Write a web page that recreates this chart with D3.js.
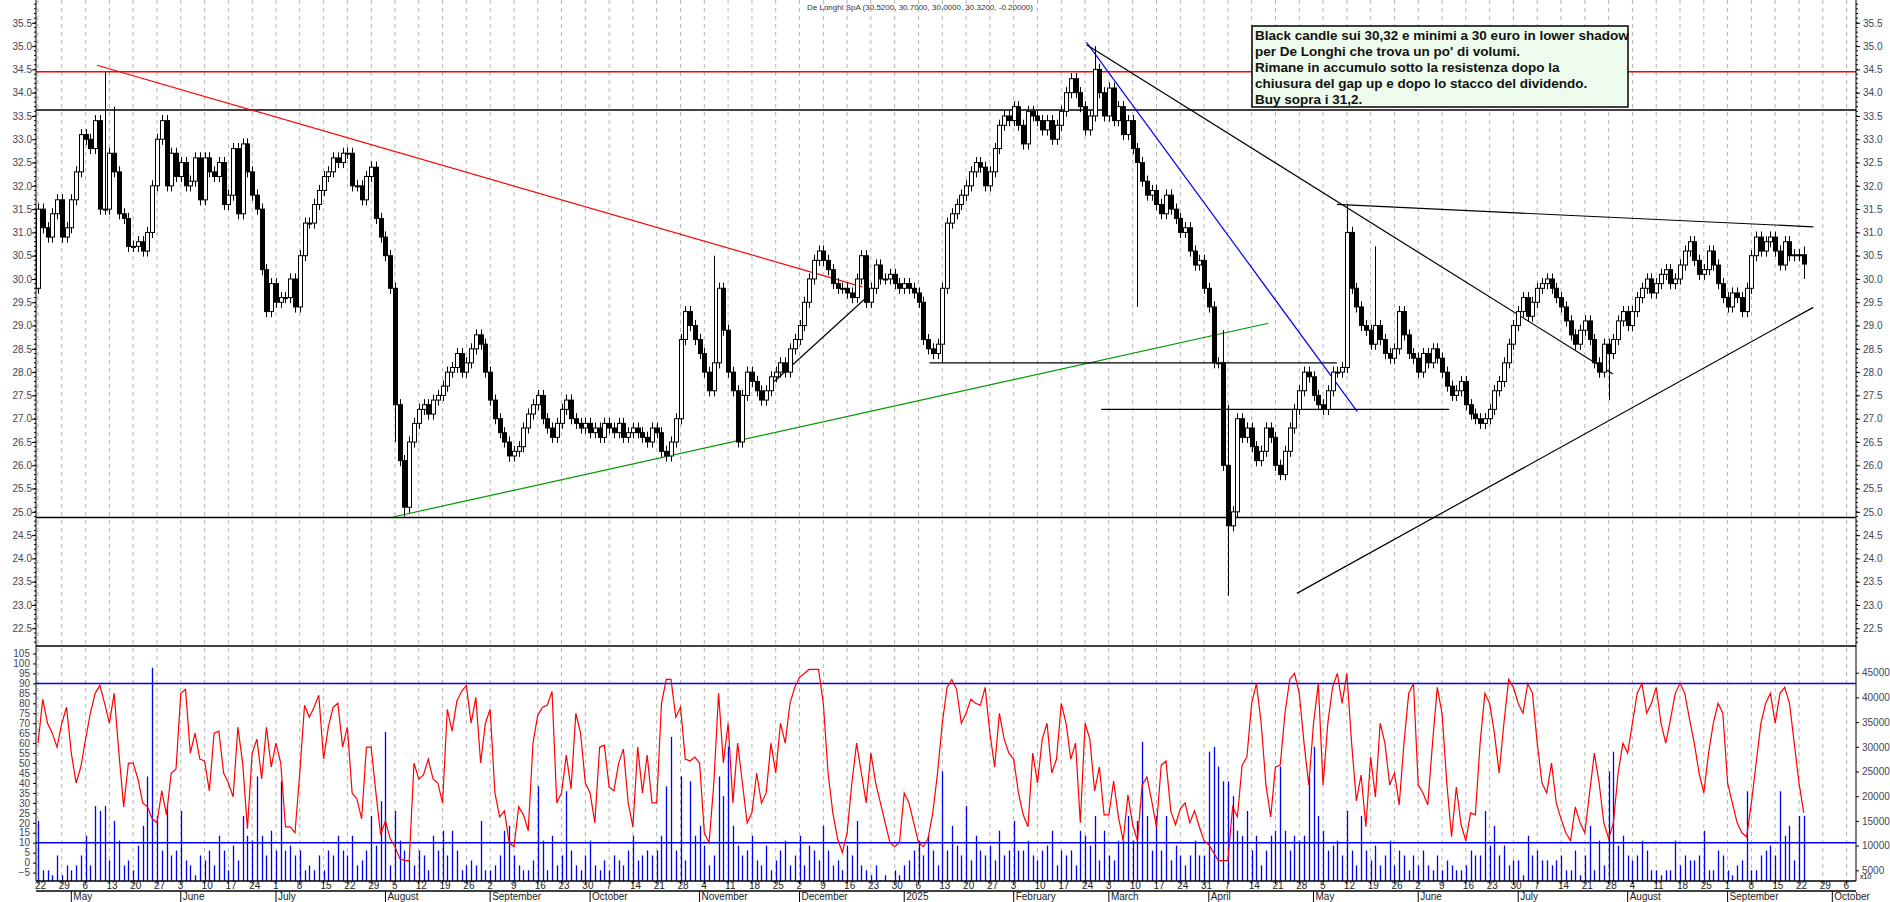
<!DOCTYPE html>
<html><head><meta charset="utf-8">
<script src="https://cdn.jsdelivr.net/npm/d3@7"></script>
<style>body{margin:0;background:#fff}svg{display:block;font-family:"Liberation Sans",Arial,sans-serif}</style>
</head><body><svg id="c" width="1890" height="902"></svg>
<script>
// ---- data (weekly rows of daily values, trading weekdays from 2024-04-22) ----
const startDate = "2024-04-22";
const closes = [
[31.5,31.1,30.9,31.4,31.7],[30.9,31.1,31.7,32.3,33.1],[33.0,32.8,33.4,31.5,31.5],[32.7,32.3,31.4,31.3,30.7],
[30.7,30.8,30.6,31.0,32.0],[33.0,33.4,32.0,32.7,32.2],[32.5,32.0,32.1,32.6,31.7],[32.6,32.3,32.2,32.5,31.6],
[31.8,32.8,31.4,32.9,32.3],[31.8,31.5,30.2,29.3,29.9],[29.5,29.6,29.6,30.0,29.4],[30.5,31.2,31.2,31.6,31.9],
[32.2,32.3,32.6,32.5,32.7],[32.7,32.0,32.0,31.7,32.2],[32.4,31.3,30.9,30.5,29.8],[27.3,26.1,25.1,26.5,26.9],
[27.2,27.3,27.1,27.4,27.5],[27.7,28.0,28.1,28.4,28.0],[28.2,28.5,28.8,28.6,28.0],[27.4,27.0,26.7,26.5,26.2],
[26.3,26.4,26.8,27.1,27.3],[27.5,27.0,26.8,26.6,26.9],[27.2,27.4,27.0,26.9,26.8],[26.9,26.7,26.8,26.6,26.9],
[26.8,26.7,26.9,26.6,26.7],[26.8,26.7,26.6,26.5,26.8],[26.7,26.3,26.2,26.5,27.0],[28.7,29.3,29.0,28.7,28.4],
[28.0,27.6,28.2,29.8,28.9],[28.0,27.6,26.5,27.5,28.0],[27.8,27.6,27.4,27.6,27.9],[28.0,28.2,28.0,28.5,28.7],
[29.0,29.5,30.0,30.4,30.6],[30.4,30.2,29.9,29.8,29.8],[29.7,29.6,30.0,30.5,29.5],[29.8,30.3,30.0,30.0,30.1],
[29.9,29.8,29.9,29.8,29.7],[29.5,28.7,28.5,28.4,28.6],[29.8,31.2,31.4,31.6,31.8],[32.0,32.3,32.5,32.4,32.0],
[32.3,32.8,33.3,33.5,33.4],[33.7,33.3,32.9,33.6,33.5],[33.4,33.2,33.4,33.0,33.3],[33.6,34.0,34.3,34.0,33.7],
[33.2,33.5,34.5,34.0,33.5],[34.1,33.4,33.7,33.1,33.4],[32.8,32.5,32.1,31.8,31.9],[31.6,31.4,31.8,31.5,31.3],
[31.0,31.1,30.6,30.3,30.4],[29.8,29.4,28.2,28.2,26.0],[24.7,25.0,27.0,26.6,26.8],[26.4,26.1,26.3,26.8,26.6],
[26.0,25.8,26.3,26.8,27.2],[27.6,28.0,27.9,27.5,27.3],[27.2,27.6,28.0,28.0,28.1],[31.0,29.8,29.4,29.0,28.9],
[28.6,29.0,28.7,28.4,28.3],[28.5,29.3,28.8,28.4,28.3],[28.0,28.4,28.2,28.5,28.3],[28.0,27.7,27.5,27.6,27.8],
[27.3,27.1,27.0,26.9,27.0],[27.2,27.6,27.8,28.2,28.6],[29.0,29.3,29.6,29.2,29.5],[29.8,29.9,30.0,29.8,29.6],
[29.4,29.1,28.8,28.6,28.9],[29.1,28.7,28.2,28.0,28.6],[28.4,28.7,29.1,29.3,29.0],[29.3,29.6,29.8,30.0,29.7],
[29.9,30.1,30.2,29.9,30.0],[30.3,30.6,30.8,30.4,30.1],[30.2,30.6,30.3,29.9,29.6],[29.4,29.7,29.6,29.3,29.8],
[30.5,30.9,30.6,30.8,30.9],[30.6,30.3,30.8,30.5,30.52],[30.5,30.32]
];
const firstOpen = 29.8;
// notable wick extremes: [date, high, low]
const extremes = [
["2024-05-10",34.45,null],["2024-05-14",33.7,null],["2024-08-07",null,24.9],["2024-08-05",null,26.5],
["2024-11-06",30.5,null],["2025-01-13",null,28.2],["2025-02-26",35.0,null],["2025-03-11",null,29.4],
["2025-04-04",28.9,null],["2025-04-07",27.3,23.2],["2025-05-12",31.6,null],["2025-05-20",30.7,null],
["2025-07-28",null,27.4],["2025-09-23",30.7,30.0]
];
const stoch = [
[60,82,70,65,58],[70,78,55,40,48],[62,75,85,89,80],[70,85,55,28,50],[50,42,30,28,22],[20,36,24,45,47],
[85,87,55,65,52],[51,36,65,66,45],[40,33,68,50,17],[55,62,42,68,48],[60,50,18,18,15],[45,79,73,78,84],
[52,68,78,80,58],[68,35,32,22,58],[58,35,14,21,12],[8,2,1,1,50],[42,44,52,42,40],[30,77,66,81,86],
[89,70,83,50,70],[77,35,23,26,10],[8,28,24,16,60],[74,78,79,86,30],[35,54,37,75,65],[40,35,20,58,59],
[38,36,50,57,30],[18,58,35,54,30],[30,80,92,92,73],[78,52,51,53,50],[15,10,40,85,50],[70,30,60,40,20],
[25,45,30,35,60],[45,70,60,80,88],[93,95,97,97,97],[80,45,25,12,5],[15,40,60,45,30],[55,40,30,20,10],
[8,10,35,30,20],[10,8,12,25,45],[70,88,92,87,70],[75,82,80,79,88],[65,48,75,62,55],[52,35,24,18,55],
[40,62,70,45,52],[80,70,52,60,20],[70,62,36,48,24],[24,41,23,11,34],[19,11,39,43,31],[18,49,51,26,19],
[27,30,20,26,18],[11,9,5,1,1],[1,28,23,49,53],[80,90,70,39,23],[48,49,75,92,95],[85,60,39,70,90],
[39,70,88,95,80],[95,60,31,44,18],[53,33,70,60,39],[45,29,60,85,90],[39,35,29,60,88],[75,40,13,38,19],
[11,25,24,60,85],[80,65,45,70,92],[88,80,75,90,85],[60,40,35,50,30],[22,15,11,28,20],[15,35,55,40,20],
[12,20,45,60,55],[70,85,90,75,80],[88,70,60,72,85],[90,85,72,60,45],[35,55,70,80,75],[40,30,20,15,13],
[30,50,70,80,85],[70,85,88,80,60],[40,25]
];
const volumeK = [
[15,5,5,4,8],[4,6,5,6,8],[12,6,18,17,18],[7,15,11,6,7],[5,10,14,24,46],[16,9,18,8,9],[17,7,6,4,8],
[7,9,6,12,9],[5,10,7,16,12],[11,24,12,8,13],[9,23,9,10,8],[9,5,6,5,8],[5,9,8,12,9],[8,12,6,7,9],
[16,10,19,33,6],[17,11,9,7,6],[9,8,5,12,9],[13,8,13,9,5],[6,7,6,15,5],[5,6,8,13,14],[8,6,5,5,7],
[22,11,5,12,6],[8,21,9,6,5],[8,11,6,5,7],[5,8,7,6,9],[12,7,8,9,8],[9,12,22,32,9],[24,7,23,12,14],
[10,6,8,24,20],[30,14,10,8,9],[12,7,6,10,5],[7,9,11,6,8],[12,6,10,9,7],[14,9,6,7,5],[10,8,15,6,5],
[4,6,3,4,3],[5,4,6,7,9],[11,8,12,9,6],[25,9,14,10,8],[18,7,12,9,8],[10,7,13,8,9],[15,9,9,11,8],
[7,9,10,13,6],[9,8,9,6,13],[12,10,16,7,13],[8,7,11,11,16],[11,15,31,16,9],[16,9,16,7,10],[8,6,8,11,8],
[8,29,30,26,23],[23,20,13,12,17],[9,12,6,9,12],[13,26,13,9,12],[11,12,24,30,16],[13,9,10,11,8],
[17,9,6,16,9],[7,10,6,8,11],[6,9,8,5,8],[6,9,6,5,8],[5,7,6,5,5],[6,9,8,8,17],[10,14,8,10,6],
[7,7,4,12,8],[9,7,7,6,7],[8,5,5,9,4],[8,14,5,11,6],[25,29,10,12,8],[7,8,11,9,5],[5,4,5,5,11],
[6,8,7,7,8],[13,5,5,9,8],[5,4,6,7,21],[5,5,8,9,10],[8,21,12,14,7],[16,16]
];
// trend lines: [index0, price0, index1, price1, colour]
const trendLines = [
[12.4,34.59,173.2,29.83,"#ff0000"],[74.6,24.89,258.5,29.05,"#009900"],[154.7,27.8,175.1,29.7,"#000"],
[187.3,28.2,272.9,28.2,"#000"],[223.4,27.2,296.5,27.2,"#000"],[220.3,35.08,277.2,27.15,"#0000ff"],
[220.3,35.03,330.9,27.96,"#000"],[272.9,31.6,373,31.12,"#000"],[264.5,23.25,373,29.39,"#000"]
];
const hLines = [[34.45,"#ff0000"],[33.63,"#000"],[24.88,"#000"]];
const oscLevels = [90,10];
const noteLines = ["Black candle sui 30,32 e minimi a 30 euro in lower shadow","per De Longhi che trova un po' di volumi.","Rimane in accumulo sotto la resistenza dopo la","chiusura del gap up e dopo lo stacco del dividendo.","Buy sopra i 31,2."];
const title = "De Longhi SpA (30.5200, 30.7000, 30.0000, 30.3200, -0.20000)";
const monthNames = ["2025","February","March","April","May","June","July","August","September","October","November","December"];

// ---- build ----
const svg = d3.select("#c");
const L = 36, R = 1856, pTop = 0, pBot = 646, oTop = 646, oBot = 881;
const s0 = new Date(startDate+"T00:00:00");
function dateOf(i){const d=new Date(s0);d.setDate(d.getDate()+Math.floor(i/5)*7+i%5);return d;}
function key(d){return d.toISOString().slice(0,10);}
const C = closes.flat(), S = stoch.flat(), V = volumeK.flat();
const N = C.length, NX = 383;
const x = d3.scaleLinear().domain([0,370]).range([38,1799]);
const yP = d3.scaleLinear().domain([22.12,35.99]).range([pBot,pTop]);
const yO = d3.scaleLinear().domain([-5,105]).range([872.6,653.5]);
const yV = d3.scaleLinear().domain([0,45]).range([895,672.7]);
const ex = new Map(extremes.map(e=>[e[0],e]));
const data = C.map((c,i)=>{const o=i?C[i-1]:firstOpen;let h=Math.max(o,c)+0.12,l=Math.min(o,c)-0.12;
 const e=ex.get(key(dateOf(i)));if(e){if(e[1]!=null)h=e[1];if(e[2]!=null)l=e[2];}return {i,o,c,h,l};});
data[N-1].o=30.52;

// clip
svg.append("defs").append("clipPath").attr("id","pc").append("rect").attr("x",L).attr("y",pTop).attr("width",R-L).attr("height",pBot-pTop);
svg.select("defs").append("clipPath").attr("id","oc").append("rect").attr("x",L).attr("y",oTop).attr("width",R-L).attr("height",oBot-oTop);

// grid (Mondays)
const mondays = d3.range(0,NX,5);
svg.append("g").selectAll("line").data(mondays).join("line")
 .attr("x1",d=>x(d)).attr("x2",d=>x(d)).attr("y1",0).attr("y2",oBot)
 .attr("stroke","#b4b4b4").attr("stroke-dasharray","4,4");

// horizontal lines price
const gp = svg.append("g").attr("clip-path","url(#pc)");
hLines.forEach(h=>gp.append("line").attr("x1",L).attr("x2",R).attr("y1",yP(h[0])).attr("y2",yP(h[0])).attr("stroke",h[1]).attr("stroke-width",1.5));
trendLines.forEach(t=>gp.append("line").attr("x1",x(t[0])).attr("y1",yP(t[1])).attr("x2",x(t[2])).attr("y2",yP(t[3])).attr("stroke",t[4]).attr("stroke-width",1.2));
// candles
const cg = gp.append("g");
cg.selectAll("line").data(data).join("line").attr("x1",d=>Math.round(x(d.i))+0.5).attr("x2",d=>Math.round(x(d.i))+0.5)
 .attr("y1",d=>yP(d.h)).attr("y2",d=>yP(d.l)).attr("stroke","#000");
cg.selectAll("rect").data(data).join("rect").attr("x",d=>Math.round(x(d.i))-1.5).attr("width",4)
 .attr("y",d=>yP(Math.max(d.o,d.c))).attr("height",d=>Math.max(1,Math.abs(yP(d.o)-yP(d.c))))
 .attr("fill",d=>d.c<d.o?"#000":"#fff").attr("stroke","#000").attr("stroke-width",1);

// oscillator panel
const go = svg.append("g").attr("clip-path","url(#oc)");
go.selectAll("line.v").data(V).join("line").attr("class","v").attr("x1",(d,i)=>Math.round(x(i))+0.5).attr("x2",(d,i)=>Math.round(x(i))+0.5)
 .attr("y1",d=>yV(d)).attr("y2",oBot).attr("stroke","#0000ff").attr("stroke-width",1.3);
oscLevels.forEach(v=>go.append("line").attr("x1",L).attr("x2",R).attr("y1",yO(v)).attr("y2",yO(v)).attr("stroke","#0000ff").attr("stroke-width",1.5));
go.append("path").datum(S).attr("d",d3.line().x((d,i)=>x(i)).y(d=>yO(d))).attr("fill","none").attr("stroke","#ff0000").attr("stroke-width",1.2);

// frames
svg.append("line").attr("x1",L).attr("x2",R).attr("y1",oTop).attr("y2",oTop).attr("stroke","#000").attr("stroke-width",1.5);
svg.append("line").attr("x1",L).attr("x2",L).attr("y1",0).attr("y2",oBot).attr("stroke","#000");
svg.append("line").attr("x1",R).attr("x2",R).attr("y1",0).attr("y2",oBot).attr("stroke","#000");
svg.append("line").attr("x1",L).attr("x2",R).attr("y1",oBot).attr("y2",oBot).attr("stroke","#000").attr("stroke-width",1.5);
svg.append("line").attr("x1",L).attr("x2",R).attr("y1",891).attr("y2",891).attr("stroke","#000").attr("stroke-width",1.5);

// price axes
const pAxisL = d3.axisLeft(yP).tickValues(d3.range(22.5,35.51,0.5)).tickFormat(d3.format(".1f")).tickSize(4);
const pAxisR = d3.axisRight(yP).tickValues(d3.range(22.5,35.51,0.5)).tickFormat(d3.format(".1f")).tickSize(4);
function styleAx(g){g.select(".domain").remove();g.selectAll("text").attr("font-size",10).attr("fill","#445");g.selectAll("line").attr("stroke","#000");}
svg.append("g").attr("transform",`translate(${L},0)`).call(pAxisL).call(styleAx).selectAll("text").attr("x",-4);
svg.append("g").attr("transform",`translate(${R},0)`).call(pAxisR).call(styleAx);
// minor ticks
const minor = d3.range(22.2,35.95,0.1);
[L,R].forEach((X,k)=>svg.append("g").selectAll("line").data(minor).join("line").attr("x1",X).attr("x2",k?X+2:X-2).attr("y1",d=>yP(d)).attr("y2",d=>yP(d)).attr("stroke","#000"));
// osc axis
svg.append("g").attr("transform",`translate(${L},0)`).call(d3.axisLeft(yO).tickValues(d3.range(-5,106,5)).tickSize(3)).call(styleAx);
svg.append("g").attr("transform",`translate(${R},0)`).call(d3.axisRight(yV).tickValues(d3.range(5,46,5)).tickFormat(d=>d*1000).tickSize(3)).call(styleAx);
svg.append("text").attr("x",R+4).attr("y",879).attr("font-size",7).text("x10");

// x axis labels
const xl = svg.append("g").attr("font-size",10).attr("fill","#222");
xl.selectAll("text").data(mondays).join("text").attr("x",d=>x(d)-3).attr("y",889).text(d=>dateOf(d).getDate());
xl.selectAll("line").data(mondays).join("line").attr("x1",d=>x(d)).attr("x2",d=>x(d)).attr("y1",oBot).attr("y2",884).attr("stroke","#000");
const monthStarts = d3.range(1,NX).filter(i=>dateOf(i).getMonth()!==dateOf(i-1).getMonth());
const mg = svg.append("g").attr("font-size",10).attr("fill","#222");
mg.selectAll("text").data(monthStarts).join("text").attr("x",d=>x(d)+2).attr("y",900)
 .text(d=>{const dt=dateOf(d);return dt.getMonth()===0?"2025":["","February","March","April","May","June","July","August","September","October","November","December"][dt.getMonth()];});
mg.selectAll("line").data(monthStarts).join("line").attr("x1",d=>x(d)).attr("x2",d=>x(d)).attr("y1",891).attr("y2",902).attr("stroke","#000");

// title
svg.append("text").attr("x",920).attr("y",10).attr("text-anchor","middle").attr("font-size",8).attr("fill","#333").text(title);
// note box
svg.append("rect").attr("x",1252).attr("y",26).attr("width",376).attr("height",81).attr("fill","#eefcee").attr("stroke","#000").attr("stroke-width",1.5);
svg.append("g").selectAll("text").data(noteLines).join("text").attr("x",1255).attr("y",(d,i)=>40+i*16)
 .attr("font-size",13.5).attr("font-weight","bold").attr("fill","#111").text(d=>d);
</script></body></html>
